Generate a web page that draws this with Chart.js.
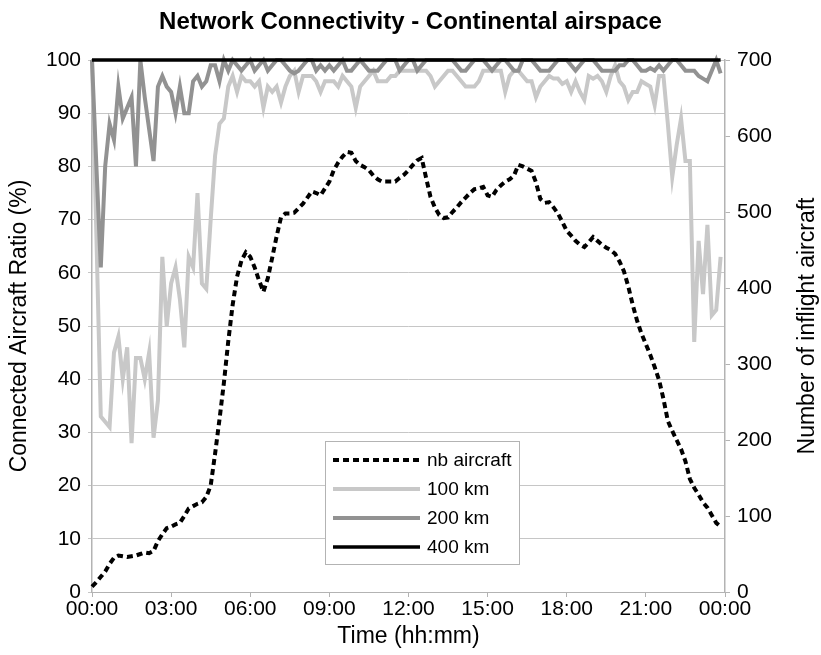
<!DOCTYPE html>
<html>
<head>
<meta charset="utf-8">
<title>Network Connectivity - Continental airspace</title>
<script src="https://cdn.jsdelivr.net/npm/chart.js@4.4.1/dist/chart.umd.min.js"></script>
<style>
  html, body { margin: 0; padding: 0; background: #fff; }
  #wrap { width: 821px; height: 655px; }
</style>
</head>
<body>
<div id="wrap"><canvas id="chart" width="821" height="655"></canvas></div>
<script>
// One sample every 10 minutes, 00:00 to 23:50
const SAMPLE_MINUTES = 10

const timeTicks = [0, 180, 360, 540, 720, 900, 1080, 1260, 1440]
const timeLabels = ["00:00", "03:00", "06:00", "09:00", "12:00", "15:00", "18:00", "21:00", "00:00"]

// Number of aircraft in flight (right axis)
const aircraftCount = [
  7, 13, 20, 27, 37, 45, 48, 47, 46, 47,
  48, 50, 52, 51, 54, 67, 76, 84, 86, 89,
  91, 100, 110, 113, 116, 118, 125, 140, 182, 227,
  275, 330, 378, 415, 436, 447, 441, 427, 410, 395,
  413, 440, 468, 493, 498, 498, 499, 505, 511, 519,
  527, 525, 522, 531, 540, 555, 565, 573, 579, 578,
  567, 562, 559, 555, 548, 543, 540, 540, 540, 540,
  545, 549, 555, 562, 568, 571, 545, 520, 506, 496,
  492, 493, 500, 506, 513, 519, 525, 530, 531, 533,
  522, 520, 529, 535, 540, 543, 548, 562, 560, 557,
  554, 539, 517, 512, 513, 506, 498, 487, 475, 469,
  462, 457, 454, 460, 467, 462, 457, 453, 450, 445,
  435, 422, 402, 378, 357, 340, 326, 312, 296, 279,
  254, 225, 212, 200, 188, 172, 149, 137, 128, 118,
  111, 101, 91, 86
]

// Connected aircraft ratio (%) for each communication range
const ratio100km = [
  100, 67, 33, 32, 31, 45, 48, 40, 46, 28,
  44, 44, 40, 45, 29, 36, 63, 50, 58, 61,
  55, 46, 63, 61, 75, 58, 57, 70, 82, 88,
  89, 95, 97, 94, 97, 96, 96, 95, 96, 91,
  95, 94, 95, 92, 95, 97, 98, 94, 97, 97,
  97, 96, 94, 96, 96, 96, 95, 97, 96, 95,
  91, 95, 96, 97, 98, 96, 96, 96, 97, 97,
  98, 98, 98, 98, 98, 98, 98, 97, 95, 96,
  97, 98, 98, 97, 96, 95, 95, 95, 96, 98,
  98, 98, 98, 98, 94, 97, 98, 98, 97, 96,
  96, 93, 95, 96, 97, 96.5, 96.5, 95.5, 96, 94,
  96, 94, 92.5, 97, 96.5, 97, 96, 94, 97, 99,
  96, 95, 92.5, 94, 94, 96, 95.5, 95, 91.5, 97,
  97, 88, 78, 84, 89, 81, 81, 47, 66, 56,
  69, 52, 53, 63
]

const ratio200km = [
  100, 80, 61, 80, 88, 85, 95, 89, 91, 93,
  80, 100, 93, 87, 81, 95, 97, 95, 94, 90,
  95, 90, 90, 96, 97, 95, 96, 99, 99, 96,
  100, 98, 100, 99, 98, 99, 100, 98, 99, 100,
  98, 99, 100, 100, 99, 98, 97.5, 98, 99, 100,
  100, 98, 99, 98, 99, 98, 99, 100, 98, 98,
  99, 100, 99, 98, 98, 98, 99, 100, 100, 100,
  98, 99, 100, 100, 98, 99, 100, 100, 100, 100,
  100, 100, 100, 99, 98, 98, 99, 100, 100, 100,
  99, 98, 99, 100, 100, 99, 98, 98, 100, 100,
  100, 99, 98, 98, 98, 99, 100, 100, 100, 99,
  98, 99, 100, 100, 100, 99, 98, 98, 98, 98,
  99, 99, 100, 100, 99, 98, 98, 98.5, 98, 99,
  98, 99, 100, 100, 99, 98, 98, 98, 97, 96.5,
  96, 98, 100, 97.5
]

const ratio400km = [
  100, 100, 100, 100, 100, 100, 100, 100, 100, 100, 100, 100,
  100, 100, 100, 100, 100, 100, 100, 100, 100, 100, 100, 100,
  100, 100, 100, 100, 100, 100, 100, 100, 100, 100, 100, 100,
  100, 100, 100, 100, 100, 100, 100, 100, 100, 100, 100, 100,
  100, 100, 100, 100, 100, 100, 100, 100, 100, 100, 100, 100,
  100, 100, 100, 100, 100, 100, 100, 100, 100, 100, 100, 100,
  100, 100, 100, 100, 100, 100, 100, 100, 100, 100, 100, 100,
  100, 100, 100, 100, 100, 100, 100, 100, 100, 100, 100, 100,
  100, 100, 100, 100, 100, 100, 100, 100, 100, 100, 100, 100,
  100, 100, 100, 100, 100, 100, 100, 100, 100, 100, 100, 100,
  100, 100, 100, 100, 100, 100, 100, 100, 100, 100, 100, 100,
  100, 100, 100, 100, 100, 100, 100, 100, 100, 100, 100, 100
]

const FONT = "'Liberation Sans', Arial, Helvetica, sans-serif"
const AXIS_GREY = "#b3b3b3"

const toPoints = values => values.map((y, i) => ({ x: i * SAMPLE_MINUTES, y }))

// Framed legend sitting inside the plot, below the curves
const boxLegend = {
  id: "boxLegend",
  afterDraw(chart, args, opts) {
    const { ctx, chartArea } = chart
    const x = chartArea.left + opts.left
    const y = chartArea.top + opts.top
    ctx.save()
    ctx.fillStyle = "#fff"
    ctx.fillRect(x, y, opts.width, opts.height)
    ctx.strokeStyle = AXIS_GREY
    ctx.lineWidth = 1
    ctx.strokeRect(x + 0.5, y + 0.5, opts.width, opts.height)
    ctx.font = `${opts.fontSize}px ${FONT}`
    ctx.textBaseline = "middle"
    ctx.fillStyle = "#000"
    chart.data.datasets.forEach((ds, i) => {
      const rowY = y + opts.firstRow + i * opts.rowGap
      ctx.beginPath()
      ctx.setLineDash(ds.borderDash || [])
      ctx.lineWidth = ds.borderWidth
      ctx.strokeStyle = ds.borderColor
      ctx.moveTo(x + 8, rowY)
      ctx.lineTo(x + 95, rowY)
      ctx.stroke()
      ctx.setLineDash([])
      ctx.fillText(ds.label, x + 102, rowY + 1)
    })
    ctx.restore()
  }
}

// Right-hand axis title, rotated to read bottom to top like the left one
const rightTitle = {
  id: "rightTitle",
  afterDraw(chart, args, opts) {
    const { ctx, chartArea } = chart
    ctx.save()
    ctx.translate(opts.x, (chartArea.top + chartArea.bottom) / 2)
    ctx.rotate(-Math.PI / 2)
    ctx.font = `${opts.fontSize}px ${FONT}`
    ctx.fillStyle = "#000"
    ctx.textAlign = "center"
    ctx.textBaseline = "middle"
    ctx.fillText(opts.text, 0, 0)
    ctx.restore()
  }
}

new Chart(document.getElementById("chart"), {
  type: "line",
  data: {
    datasets: [
      {
        label: "nb aircraft",
        data: toPoints(aircraftCount),
        yAxisID: "y1",
        borderColor: "#000",
        borderWidth: 4,
        borderDash: [6, 4],
        order: 4
      },
      {
        label: "100 km",
        data: toPoints(ratio100km),
        yAxisID: "y",
        borderColor: "#c8c8c8",
        borderWidth: 4,
        order: 3
      },
      {
        label: "200 km",
        data: toPoints(ratio200km),
        yAxisID: "y",
        borderColor: "#929292",
        borderWidth: 4,
        order: 2
      },
      {
        label: "400 km",
        data: toPoints(ratio400km),
        yAxisID: "y",
        borderColor: "#000",
        borderWidth: 3.5,
        order: 1
      }
    ]
  },
  options: {
    responsive: false,
    animation: false,
    devicePixelRatio: 1,
    layout: { padding: 0 },
    elements: {
      point: { radius: 0 },
      line: { tension: 0, borderCapStyle: "butt", borderJoinStyle: "miter", fill: false }
    },
    datasets: { line: { clip: false } },
    plugins: {
      legend: { display: false },
      tooltip: { enabled: false },
      title: {
        display: true,
        text: "Network Connectivity - Continental airspace",
        color: "#000",
        font: { family: FONT, size: 24, weight: "bold", lineHeight: 1.2 },
        padding: { top: 8, bottom: 23.2 }
      },
      boxLegend: { left: 233, top: 381, width: 194, height: 123, firstRow: 19, rowGap: 29, fontSize: 19 },
      rightTitle: { x: 808, fontSize: 23, text: "Number of inflight aircraft" }
    },
    scales: {
      x: {
        type: "linear",
        min: 0,
        max: 1440,
        afterBuildTicks: scale => { scale.ticks = timeTicks.map(value => ({ value })) },
        afterFit: scale => { scale.height = 63 },
        ticks: {
          autoSkip: false,
          maxRotation: 0,
          padding: 0,
          color: "#000",
          font: { family: FONT, size: 21 },
          callback: (value, index) => timeLabels[index]
        },
        grid: { drawOnChartArea: false, color: AXIS_GREY, tickLength: 5 },
        border: { color: AXIS_GREY, width: 1 },
        title: {
          display: true,
          text: "Time (hh:mm)",
          color: "#000",
          font: { family: FONT, size: 23, lineHeight: 1.2 },
          padding: { top: 0, bottom: 5 }
        }
      },
      y: {
        position: "left",
        min: 0,
        max: 100,
        afterFit: scale => { scale.width = 92 },
        ticks: {
          stepSize: 10,
          padding: 7,
          color: "#000",
          font: { family: FONT, size: 21 }
        },
        grid: { color: "#c6c6c6", lineWidth: 1, tickLength: 4 },
        border: { color: AXIS_GREY, width: 1.5 },
        title: {
          display: true,
          text: "Connected Aircraft Ratio (%)",
          color: "#000",
          font: { family: FONT, size: 23, lineHeight: 1.2 },
          padding: { top: 6, bottom: 0 }
        }
      },
      y1: {
        position: "right",
        min: 0,
        max: 700,
        afterFit: scale => { scale.width = 96 },
        ticks: {
          stepSize: 100,
          padding: 7,
          color: "#000",
          font: { family: FONT, size: 21 }
        },
        grid: { drawOnChartArea: false, color: AXIS_GREY, tickLength: 5 },
        border: { color: AXIS_GREY, width: 1.5 }
      }
    }
  },
  plugins: [boxLegend, rightTitle]
})
</script>
</body>
</html>
